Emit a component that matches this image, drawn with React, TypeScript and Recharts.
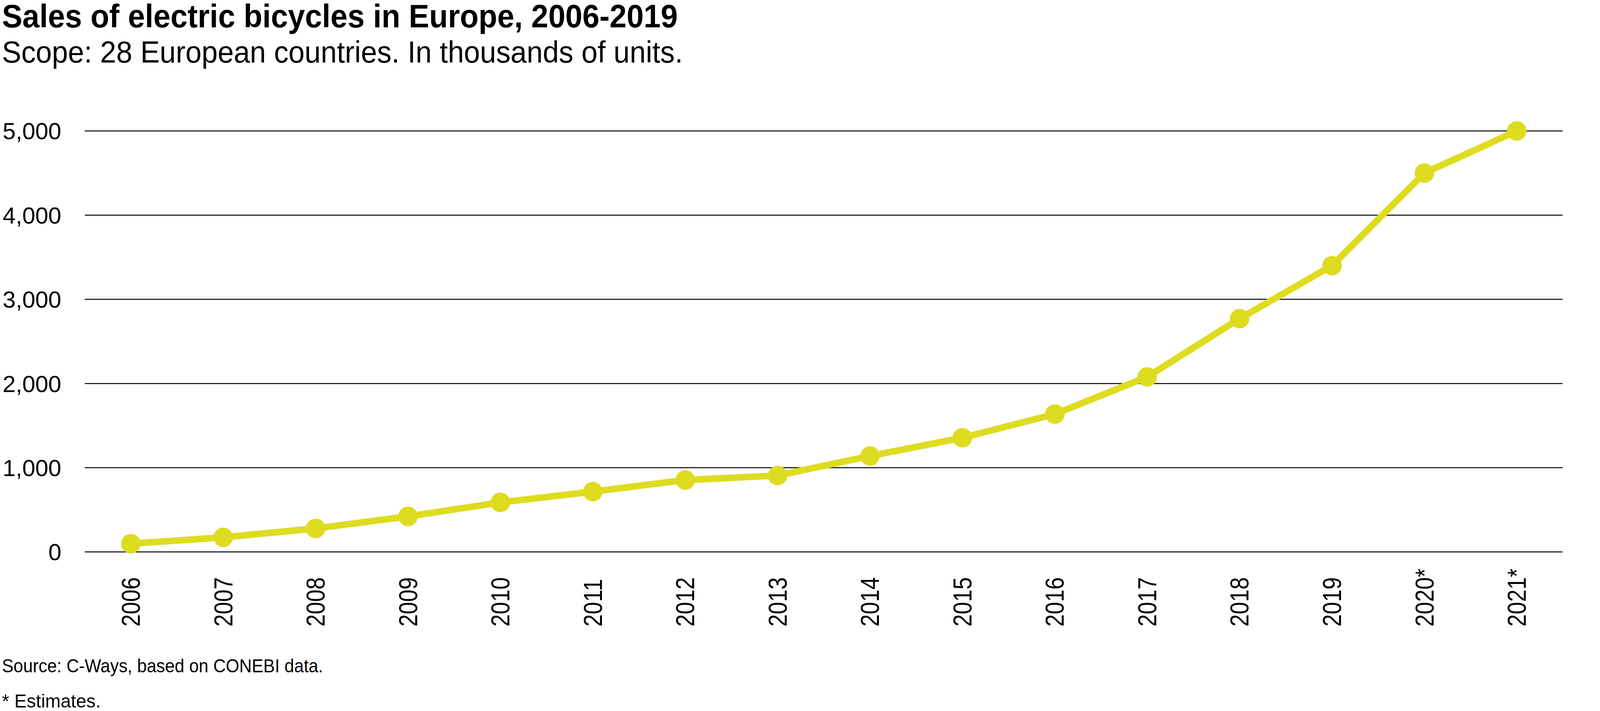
import { LineChart, Line, XAxis, YAxis, CartesianGrid } from 'recharts'

const years = ['2006', '2007', '2008', '2009', '2010', '2011', '2012', '2013', '2014', '2015', '2016', '2017', '2018', '2019', '2020*', '2021*']
const sales = [98, 173, 279, 422, 588, 716, 854, 907, 1139, 1356, 1637, 2079, 2771, 3400, 4500, 5000]
const yTicks = [0, 1000, 2000, 3000, 4000, 5000]

const title = 'Sales of electric bicycles in Europe, 2006-2019'
const subtitle = 'Scope: 28 European countries. In thousands of units.'
const source = 'Source: C-Ways, based on CONEBI data.'
const note = '* Estimates.'

const data = years.map((year, i) => ({ year, sales: sales[i] }))

const LINE = '#dedc21'
const FONT = '"Liberation Sans", Arial, sans-serif'

function YearTick({ x, y, payload }: any) {
  // the reference uses a condensed face, so squeeze along the text direction
  return (
    <text
      transform={`translate(${x},${y + 191}) rotate(-90) scale(0.86,1)`}
      textAnchor="start"
      dominantBaseline="central"
      fontFamily={FONT}
      fontSize={66}
      fill="#000"
    >
      {payload.value}
    </text>
  )
}

export default function App() {
  return (
    <div style={{ position: 'absolute', left: 0, top: 0, width: 4250, height: 1819, background: '#fff' }}>
      <svg width={4250} height={1819} style={{ position: 'absolute', left: 0, top: 0 }}>
        <text x={5} y={70} fontFamily={FONT} fontWeight="bold" fontSize={84} fill="#000" textLength={1730} lengthAdjust="spacingAndGlyphs">{title}</text>
        <text x={5} y={160} fontFamily={FONT} fontSize={78} fill="#000" textLength={1743} lengthAdjust="spacingAndGlyphs">{subtitle}</text>
        <text x={5} y={1720} fontFamily={FONT} fontSize={49} fill="#000" textLength={822} lengthAdjust="spacingAndGlyphs">{source}</text>
        <text x={5} y={1810} fontFamily={FONT} fontSize={49} fill="#000" textLength={253} lengthAdjust="spacingAndGlyphs">{note}</text>
      </svg>
      <div style={{ position: 'absolute', left: 0, top: 0 }}>
        <LineChart width={4250} height={1819} data={data} margin={{ top: 335, right: 250, bottom: 0, left: 0 }}>
          <CartesianGrid horizontal vertical={false} stroke="#000" strokeWidth={2.5} />
          <XAxis
            dataKey="year"
            interval={0}
            height={407}
            padding={{ left: 118, right: 117 }}
            axisLine={false}
            tickLine={false}
            tickSize={0}
            tickMargin={0}
            tick={<YearTick />}
          />
          <YAxis
            type="number"
            domain={[0, 5000]}
            ticks={yTicks}
            width={217}
            axisLine={false}
            tickLine={false}
            tickSize={0}
            tickMargin={60}
            tickFormatter={(v: number) => v.toLocaleString('en-US')}
            tick={{ fill: '#000', fontSize: 60, fontFamily: FONT }}
          />
          <Line
            type="linear"
            dataKey="sales"
            stroke={LINE}
            strokeWidth={17}
            dot={{ r: 25, fill: LINE, stroke: 'none' }}
            activeDot={false}
            isAnimationActive={false}
          />
        </LineChart>
      </div>
    </div>
  )
}
